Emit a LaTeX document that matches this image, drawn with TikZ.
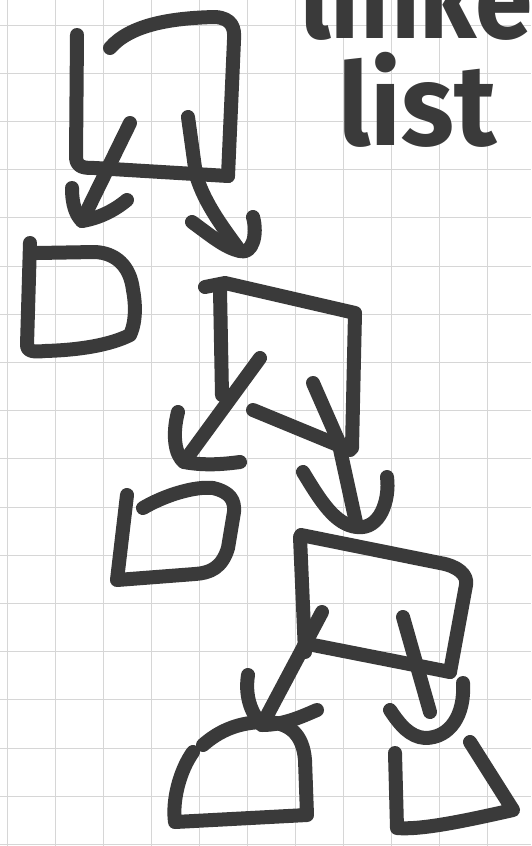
\documentclass[tikz,border=0pt]{standalone}
\usepackage{fontspec}
\setmainfont{Fira Sans}
\definecolor{inkc}{RGB}{58,58,58}
\definecolor{gridc}{RGB}{214,214,214}
\tikzset{
  ink/.style={line width=14pt, draw=inkc, line cap=round, line join=round},
  gridline/.style={draw=gridc, line width=1pt},
  word/.style={text=inkc, font=\bfseries\fontsize{115}{115}\selectfont, inner sep=0pt}
}
\begin{document}
\begin{tikzpicture}[x=1pt,y=-1pt]
\useasboundingbox (0,0) rectangle (531,846);
\clip (0,0) rectangle (531,846);
\fill[white] (0,0) rectangle (531,846);
% grid paper
\foreach \k in {0,...,11} {\draw[gridline] (7+48*\k,0) -- (7+48*\k,846);}
\foreach \k in {0,...,17} {\draw[gridline] (0,25+48.2*\k) -- (531,25+48.2*\k);}

% text (the first word is cut off by the top edge, as in the sketch)
\node[word, anchor=base west, xscale=0.9] (w1) at (300,38) {linked};
\node[word, anchor=base west, xscale=0.95] (w2) at (338,145) {list};

% box 1
\draw[ink] (77,35) -- (76,158) .. controls (77,168) and (85,168) .. (95,168) -- (228,176);
\draw[ink] (110,48) .. controls (130,25) and (170,18) .. (215,17) .. controls (232,18) and (235,28) .. (234,40) -- (228,176);

% arrow 1
\coordinate (a1s) at (130,123);
\coordinate (a1t) at (82,221);
\draw[ink] (a1s) -- (a1t);
\draw[ink] (72,188) .. controls (72,205) and (76,215) .. (a1t) .. controls (100,218) and (115,210) .. (127,200);

% arrow 2
\coordinate (a2s) at (188,117);
\coordinate (a2t) at (240,251);
\draw[ink] (a2s) -- (196,175) .. controls (205,205) and (225,230) .. (a2t);
\draw[ink] (192,222) .. controls (210,235) and (225,248) .. (a2t) .. controls (252,255) and (258,235) .. (253,217);

% box 2
\draw[ink] (30,243) -- (27,345) .. controls (27,352) and (35,352) .. (45,351) .. controls (80,350) and (110,345) .. (130,335) .. controls (137,320) and (135,300) .. (133,290) .. controls (130,265) and (115,253) .. (95,252) -- (37,253);

% box 3
\draw[ink] (205,287) -- (225,283) -- (355,313) -- (352,448);
\draw[ink] (220,290) -- (222,395);
\draw[ink] (253,410) -- (350,450);

% arrow 3
\coordinate (a3s) at (260,358);
\coordinate (a3t) at (184,462);
\draw[ink] (a3s) -- (a3t);
\draw[ink] (178,412) .. controls (172,435) and (175,455) .. (a3t) .. controls (205,466) and (225,464) .. (240,462);

% arrow 4
\coordinate (a4s) at (313,383);
\coordinate (a4t) at (357,527);
\draw[ink] (a4s) -- (338,440) -- (a4t);
\draw[ink] (303,472) .. controls (320,500) and (335,525) .. (a4t) .. controls (380,530) and (390,500) .. (387,477);

% box 4
\draw[ink] (143,508) .. controls (165,495) and (195,486) .. (213,488) .. controls (230,492) and (235,500) .. (234,512) -- (228,548) .. controls (222,568) and (210,573) .. (195,574) -- (117,580) -- (127,495);

% box 5
\draw[ink] (301,535) -- (440,563) .. controls (458,566) and (468,575) .. (466,585) -- (450,672);
\draw[ink] (300,537) -- (305,652);
\draw[ink] (313,645) -- (450,672);

% arrow 5
\coordinate (a5s) at (322,612);
\coordinate (a5t) at (262,725);
\draw[ink] (a5s) -- (a5t);
\draw[ink] (248,675) .. controls (245,695) and (250,712) .. (a5t) .. controls (285,725) and (305,715) .. (317,710);

% arrow 6
\coordinate (a6s) at (403,617);
\coordinate (a6t) at (425,738);
\draw[ink] (a6s) -- (430,712);
\draw[ink] (390,710) .. controls (400,725) and (410,737) .. (a6t) .. controls (450,738) and (465,715) .. (463,683);

% box 6
\draw[ink] (203,745) .. controls (220,730) and (240,722) .. (265,722) .. controls (290,722) and (303,735) .. (305,760) -- (307,815) -- (175,822) .. controls (172,800) and (180,770) .. (193,752);

% box 7
\draw[ink] (395,753) -- (397,828) .. controls (420,830) and (460,822) .. (513,810) -- (470,742);
\end{tikzpicture}
\end{document}
